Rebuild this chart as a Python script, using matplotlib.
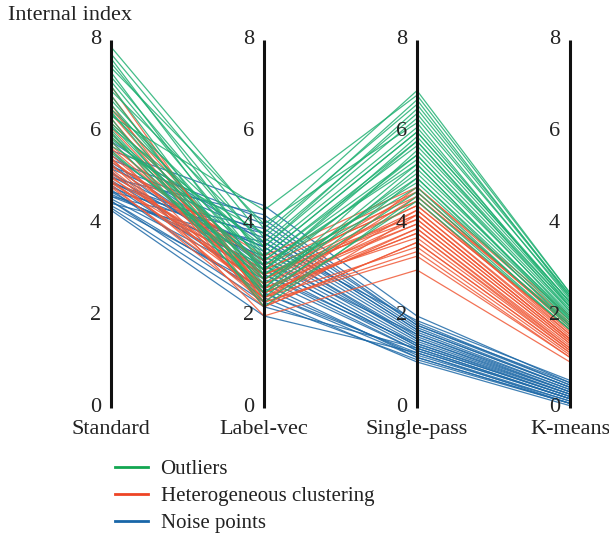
import matplotlib
matplotlib.use("Agg")
import matplotlib.pyplot as plt
from matplotlib.lines import Line2D

plt.rcParams["font.family"] = ["Liberation Serif", "DejaVu Serif"]

AXES = ["Standard", "Label-vec", "Single-pass", "K-means"]
TICKS = [0, 2, 4, 6, 8]

# Outliers (green), one value per line on each axis
OUT_STD = [7.85, 7.7, 7.6, 7.5, 7.4, 7.3, 7.2, 7.1, 7.0, 6.9, 6.8, 6.7, 6.6, 6.5, 6.45,
           6.4, 6.3, 6.2, 6.15, 6.1, 6.0, 5.95, 5.9, 5.85, 5.8, 5.7, 5.6, 5.55, 6.35, 6.05]
OUT_LAB = [3.9, 3.7, 3.2, 3.5, 4.0, 2.9, 3.3, 3.1, 2.6, 3.6, 2.4, 3.0, 2.8, 3.4, 2.5,
           3.2, 2.2, 3.0, 2.7, 3.5, 2.3, 3.1, 2.9, 3.3, 2.6, 3.8, 2.8, 3.0, 4.3, 2.5]
OUT_SP = [6.9, 6.7, 5.8, 6.5, 6.2, 5.5, 6.0, 5.3, 5.6, 6.4, 5.0, 5.9, 4.8, 6.1, 5.2,
          5.7, 4.6, 5.4, 5.1, 6.3, 4.5, 5.5, 4.9, 6.0, 5.3, 6.6, 5.0, 5.8, 6.8, 4.7]
OUT_KM = [2.5, 2.4, 2.1, 2.45, 2.2, 2.0, 2.3, 1.9, 2.15, 2.35, 1.8, 2.25, 1.75, 2.3, 2.0,
          2.2, 1.7, 2.05, 1.95, 2.4, 1.7, 2.1, 1.85, 2.3, 1.95, 2.45, 1.9, 2.2, 2.5, 1.8]

# Heterogeneous clustering (orange)
HET_STD = [7.0, 6.8, 6.6, 6.5, 6.3, 6.2, 6.1, 6.0, 5.9, 5.8, 5.7, 5.6, 5.5, 5.45, 5.4,
           5.3, 5.25, 5.2, 5.1, 5.05, 5.0, 4.95, 4.9, 4.85, 4.8, 6.4, 5.65, 5.35, 5.15, 4.9]
HET_LAB = [2.3, 2.5, 2.2, 2.8, 2.4, 3.0, 2.6, 2.2, 2.9, 2.5, 3.1, 2.3, 2.7, 2.0, 2.9,
           2.4, 3.2, 2.6, 2.8, 2.3, 3.0, 2.5, 2.7, 2.2, 2.4, 2.6, 2.8, 3.3, 2.5, 2.9]
HET_SP = [4.8, 4.6, 4.2, 4.7, 3.9, 4.5, 4.0, 3.6, 4.4, 3.8, 4.6, 3.3, 4.3, 3.0, 4.1,
          3.5, 4.7, 3.7, 4.2, 3.4, 4.5, 3.9, 4.0, 3.6, 4.3, 4.1, 4.4, 4.8, 3.8, 4.2]
HET_KM = [1.9, 1.8, 1.5, 1.75, 1.35, 1.6, 1.4, 1.2, 1.7, 1.3, 1.85, 1.1, 1.55, 1.0, 1.45,
          1.15, 1.8, 1.25, 1.5, 1.1, 1.65, 1.3, 1.4, 1.2, 1.6, 1.45, 1.7, 2.0, 1.25, 1.5]

# Noise points (blue)
NOI_STD = [5.8, 5.6, 5.5, 5.4, 5.3, 5.2, 5.15, 5.1, 5.0, 4.95, 4.9, 4.85, 4.8, 4.75, 4.7,
           4.65, 4.6, 4.55, 4.5, 4.45, 4.4, 4.35, 4.3, 5.25, 5.05, 4.9, 4.7, 4.6, 4.5, 5.35]
NOI_LAB = [3.6, 4.4, 3.2, 4.1, 2.9, 3.8, 2.5, 3.4, 4.2, 3.0, 3.7, 2.7, 3.5, 2.4, 3.9,
           3.1, 3.3, 2.8, 2.3, 3.6, 2.6, 2.2, 2.0, 4.0, 3.2, 3.5, 2.9, 3.8, 2.5, 3.1]
NOI_SP = [1.9, 2.0, 1.6, 1.8, 1.4, 1.7, 1.2, 1.5, 1.85, 1.3, 1.65, 1.1, 1.55, 1.0, 1.75,
          1.35, 1.45, 1.25, 1.05, 1.6, 1.15, 1.3, 1.2, 1.8, 1.4, 1.5, 1.25, 1.7, 1.1, 1.35]
NOI_KM = [0.6, 0.55, 0.35, 0.5, 0.25, 0.45, 0.15, 0.3, 0.5, 0.2, 0.4, 0.1, 0.35, 0.05, 0.45,
          0.25, 0.3, 0.2, 0.1, 0.4, 0.15, 0.2, 0.1, 0.55, 0.3, 0.35, 0.2, 0.45, 0.1, 0.25]

GROUPS = [
    ("Noise points", "#1f6aa8", [NOI_STD, NOI_LAB, NOI_SP, NOI_KM]),
    ("Heterogeneous clustering", "#f05a38", [HET_STD, HET_LAB, HET_SP, HET_KM]),
    ("Outliers", "#22b173", [OUT_STD, OUT_LAB, OUT_SP, OUT_KM]),
]
LEGEND_ORDER = ["Outliers", "Heterogeneous clustering", "Noise points"]
LEGEND_COLORS = {"Outliers": "#12a650", "Heterogeneous clustering": "#ee4425",
                 "Noise points": "#1866a8"}

fig = plt.figure(figsize=(6.09, 5.37), dpi=100)
ax = fig.add_axes([111 / 609, 1 - 408 / 537, (570 - 111) / 609, (408 - 40) / 537])
ax.set_xlim(0, len(AXES) - 1)
ax.set_ylim(0, 8)
ax.axis("off")

xs = list(range(len(AXES)))
for name, color, cols in GROUPS:
    for vals in zip(*cols):
        ax.plot(xs, vals, color=color, lw=0.9, alpha=0.85, solid_capstyle="butt")

for i, label in enumerate(AXES):
    ax.plot([i, i], [0, 8], color="#111111", lw=2.2, solid_capstyle="butt", zorder=5,
            clip_on=False)
    for t in TICKS:
        ax.annotate(str(t), xy=(i, t), xytext=(-10, 0), textcoords="offset pixels",
                    ha="right", va="center", fontsize=16, color="#222222")
    ax.annotate(label, xy=(i, 0), xytext=(0, -26), textcoords="offset pixels",
                ha="center", va="baseline", fontsize=16, color="#222222",
                annotation_clip=False)

fig.text(8 / 609, 1 - 15 / 537, "Internal index", ha="left", va="center",
         fontsize=16, color="#222222")

handles = [Line2D([], [], color=LEGEND_COLORS[n], lw=2) for n in LEGEND_ORDER]
fig.legend(handles, LEGEND_ORDER, loc="upper left",
           bbox_to_anchor=(96 / 609, 1 - 441 / 537), frameon=False,
           fontsize=15, handlelength=1.6, handletextpad=0.6, labelspacing=0.35,
           labelcolor="#222222")

fig.savefig("out.png", dpi=100)
